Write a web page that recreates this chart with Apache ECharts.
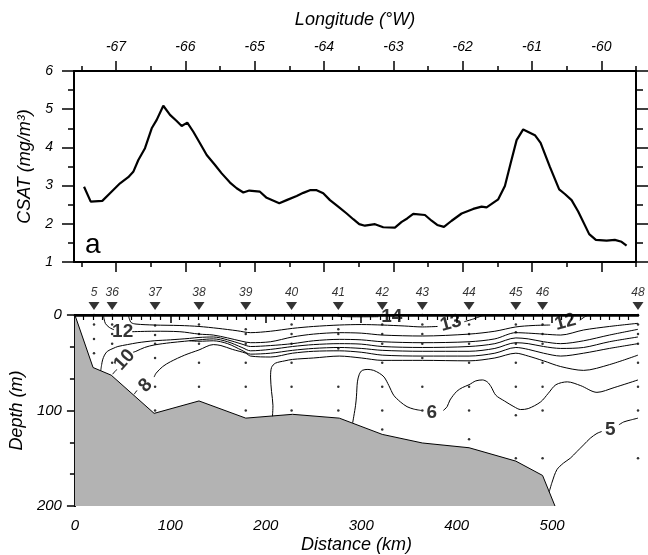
<!DOCTYPE html>
<html><head><meta charset="utf-8">
<script src="https://cdn.jsdelivr.net/npm/echarts@6/dist/echarts.min.js"></script>
<style>html,body{margin:0;padding:0;background:#fff}#c{width:648px;height:555px}</style>
</head><body><div id="c"></div>
<script>
// ---------- DATA ----------
const lonTicks = [-67,-66,-65,-64,-63,-62,-61,-60];
const lonMinorTicks = [-67.5,-66.5,-65.5,-64.5,-63.5,-62.5,-61.5,-60.5,-59.5];
const distTicks = [0,100,200,300,400,500];

// Panel a: CSAT along track (longitude, mg/m3)
const csatLon = [-67.461,-67.365,-67.198,-67.087,-66.942,-66.823,-66.751,-66.678,-66.582,-66.485,-66.413,-66.318,-66.221,-66.125,-66.053,-65.972,-65.885,-65.789,-65.692,-65.572,-65.476,-65.356,-65.260,-65.164,-65.078,-64.924,-64.827,-64.645,-64.539,-64.394,-64.299,-64.203,-64.106,-64.011,-63.914,-63.795,-63.673,-63.578,-63.492,-63.410,-63.265,-63.146,-62.977,-62.880,-62.800,-62.713,-62.544,-62.448,-62.367,-62.270,-62.159,-62.015,-61.848,-61.727,-61.655,-61.582,-61.487,-61.391,-61.309,-61.222,-61.127,-60.958,-60.876,-60.742,-60.608,-60.526,-60.429,-60.334,-60.175,-60.079,-59.924,-59.805,-59.708,-59.636];
const csatVal = [2.97,2.58,2.60,2.80,3.06,3.22,3.36,3.67,3.98,4.50,4.72,5.09,4.85,4.69,4.56,4.65,4.41,4.11,3.80,3.54,3.32,3.08,2.93,2.82,2.87,2.84,2.68,2.54,2.62,2.73,2.81,2.88,2.88,2.80,2.62,2.45,2.27,2.12,1.99,1.95,1.99,1.91,1.90,2.05,2.14,2.26,2.23,2.08,1.97,1.92,2.08,2.27,2.39,2.45,2.43,2.52,2.64,2.99,3.58,4.19,4.47,4.32,4.12,3.49,2.90,2.78,2.62,2.32,1.73,1.58,1.56,1.58,1.53,1.43];

// Panel b: stations
const stationNames = ['5','36','37','38','39','40','41','42','43','44','45','46','48'];
const stationDist  = [20,39,84,130,179,227,276,322,364,413,462,490,590];
const sampleDepths = [
  [0,10,25,40],
  [0,10,20,30,50],
  [0,11,21,30,45,75,100],
  [0,10,20,30,50,75],
  [0,15,20,30,50,75,100],
  [0,10,20,30,50,75,100],
  [0,15,20,35,75,100],
  [0,10,20,30,50,75,100,120],
  [0,10,20,30,45,75,100],
  [0,10,20,30,50,75,100,130],
  [0,10,18,30,50,75,105,150],
  [0,10,20,30,50,75,100,150],
  [0,10,20,30,50,75,100,150]
];

// Bathymetry (distance km, depth m)
const bathyDist  = [0,19,38,83,130,179,228,277,322,364,413,462,490,503];
const bathyDepth = [0,55,63,103,90,108,104,108,125,134,139,153,168,200];

// Contour lines: each = list of segments of [distance, depth]
const c14 = [[[272,0],[280,1.6],[300,1.9],[318,1.8]]];
const c13 = [
  [[56,0],[57,4],[59,8],[64,9.5],[83,10.5],[110,11],[130,12],[150,14],[170,16.5],[184,18.5],[205,17],[228,14],[250,12],[277,10.5],[300,10],[322,10.5],[345,11.5],[364,12.5],[380,12]],
  [[408,7],[418,4],[426,1],[430,0]]
];
const c12 = [
  [[30,0],[30.5,4],[32,9],[36,13],[41,15.5]],
  [[60,17.5],[83,17],[110,17.5],[130,20],[145,21],[160,24],[175,27.5],[184,29],[205,28],[228,23],[250,20],[277,18.5],[300,19],[322,21],[364,22],[413,20],[440,17],[462,12.5],[480,11],[498,10.5]],
  [[529,5.5],[534,2],[538,0]]
];
const c11 = [
  [[27,58.5],[28,52],[29,47],[31,42],[34,38],[40,35],[45,33],[55,31],[66,29],[83,27],[100,26],[120,24.5],[130,23.5],[145,23],[160,26],[175,30.5],[184,33],[205,32],[228,30],[250,27],[277,25.5],[300,26],[322,28],[364,29],[413,28],[440,25],[462,18.5],[475,19],[491,20],[509,21],[533,15.7],[560,12],[590,8.7]]
];
const c10 = [
  [[39.5,62],[42,59],[44,57]],
  [[61,39],[64,38],[73,34],[83,31.4],[100,29],[115,27.5],[130,26],[145,25],[160,28],[175,34],[184,37.5],[205,36],[228,33],[250,31],[277,30],[300,30.5],[322,33],[364,34],[413,33],[440,30],[462,24],[475,25],[491,28],[509,30],[533,27],[560,21],[590,15]]
];
const c9 = [
  [[120,27],[130,27.5],[145,27],[160,30],[175,37],[184,41],[205,40],[228,37],[250,35],[277,34],[300,35],[322,37],[364,38],[413,38],[440,35],[462,29],[475,30],[491,33],[509,35],[533,34],[560,28],[590,23]]
];
const c8 = [
  [[62,83],[65,79]],
  [[83,65],[85,61],[92,54],[100,49],[115,42],[130,36.6],[145,31],[153,32],[165,36],[179,40],[184,43],[205,44],[228,40],[250,38],[277,37.5],[300,39],[322,42],[364,43],[413,43],[440,40],[462,34],[475,36],[491,40],[509,43],[533,40],[560,35],[590,30]]
];
const c7 = [
  [[207,106],[207.5,95],[206,80],[205,65],[206,55],[210,50.5],[220,48],[228,46.5],[250,45],[277,43],[300,45],[322,47.5],[364,47.5],[413,48],[440,45],[462,40],[475,43],[491,48],[509,54],[533,58],[560,52],[590,42]]
];
const c6 = [
  [[291,113],[294,95],[295,85],[296,70],[298,62],[301,58],[307,57],[313,58],[319,61],[324,65],[329,74],[334,84],[341,91],[348,96],[355,98.5],[363,100]],
  [[386,100],[390,96],[393,89],[400,80],[406,76],[413,73],[420,69],[427,68],[432,70],[436,75],[441,84],[450,90],[460,96],[467,99],[475,98],[488,91],[496,82],[504,73],[516,70],[530,74],[547,81],[565,76],[590,68]]
];
const c5 = [
  [[497,185],[500,175],[505,162],[512,155],[519,150],[526,143],[533,136],[540,129],[547,124],[552,122]],
  [[570,115],[575,112],[582,110],[590,108]]
];
const contourLabelText  = ['14','13','12','12','10','8','6','5'];
const contourLabelDist  = [332,394,514,50,52,74,374,561];
const contourLabelDepth = [1.5,8.7,7.5,17.5,47,74,102,120];
const contourLabelAngle = [0,15,15,0,48,45,0,0];

// ---------- CHART ----------
const FONT = '"Liberation Sans", Arial, Helvetica, sans-serif';
const LON_MIN = -67.606, LON_MAX = -59.5;
const DIST_MAX = 590;
const distMinor = [];
for (let d = 10; d < DIST_MAX; d += 10) if (d % 100 !== 0) distMinor.push(d);

const blackLine = w => ({show:true, lineStyle:{color:'#000', width:w}});
const italicLabel = (extra) => Object.assign({color:'#000', fontFamily:FONT, fontStyle:'italic', fontSize:14}, extra);
const nameStyle = {color:'#000', fontFamily:FONT, fontStyle:'italic', fontSize:18};

const contourSeries = [];
[c14,c13,c12,c11,c10,c9,c8,c7,c6,c5].forEach(segs => segs.forEach(seg => {
  contourSeries.push({type:'line', xAxisIndex:4, yAxisIndex:3, data:seg, symbol:'none', smooth:0.3,
    lineStyle:{color:'#000', width:1}, z:3, silent:true, clip:true});
}));

const dots = [];
stationDist.forEach((d,i) => sampleDepths[i].forEach(z => dots.push([d,z])));

const option = {
  animation:false,
  backgroundColor:'#fff',
  textStyle:{fontFamily:FONT},
  grid:[
    {left:74, top:71, width:562, height:191},
    {left:74, top:315, width:564, height:191},
    {left:74, top:71, width:562, height:191},
    {left:74, top:315, width:564, height:191}
  ],
  xAxis:[
    {gridIndex:0, type:'value', position:'top', min:LON_MIN, max:LON_MAX,
      name:'Longitude (°W)', nameLocation:'middle', nameGap:42, nameTextStyle:nameStyle,
      axisLine:blackLine(2), axisTick:{show:true, length:10, customValues:lonTicks, lineStyle:{color:'#000', width:1.5}},
      axisLabel:italicLabel({customValues:lonTicks, margin:17}), splitLine:{show:false}},
    {gridIndex:0, type:'value', position:'bottom', min:LON_MIN, max:LON_MAX,
      axisLine:blackLine(2), axisTick:{show:true, length:10, customValues:lonTicks, lineStyle:{color:'#000', width:1.5}},
      axisLabel:{show:false}, splitLine:{show:false}},
    {gridIndex:2, type:'value', position:'top', min:LON_MIN, max:LON_MAX,
      axisLine:{show:false}, axisTick:{show:true, length:5, customValues:lonMinorTicks, lineStyle:{color:'#000', width:1.5}},
      axisLabel:{show:false}, splitLine:{show:false}},
    {gridIndex:2, type:'value', position:'bottom', min:LON_MIN, max:LON_MAX,
      axisLine:{show:false}, axisTick:{show:true, length:5, customValues:lonMinorTicks, lineStyle:{color:'#000', width:1.5}},
      axisLabel:{show:false}, splitLine:{show:false}},
    {gridIndex:1, type:'value', position:'bottom', min:0, max:DIST_MAX,
      name:'Distance (km)', nameLocation:'middle', nameGap:30, nameTextStyle:nameStyle,
      axisLine:blackLine(2), axisTick:{show:true, length:8, customValues:distTicks, lineStyle:{color:'#000', width:1.5}},
      axisLabel:italicLabel({customValues:distTicks, margin:12, fontSize:15}), splitLine:{show:false}},
    {gridIndex:1, type:'value', position:'top', min:0, max:DIST_MAX,
      axisLine:blackLine(2.5), axisTick:{show:false}, axisLabel:{show:false}, splitLine:{show:false}},
    {gridIndex:3, type:'value', position:'bottom', min:0, max:DIST_MAX,
      axisLine:{show:false}, axisTick:{show:true, length:5, customValues:distMinor, lineStyle:{color:'#000', width:1.2}},
      axisLabel:{show:false}, splitLine:{show:false}}
  ],
  yAxis:[
    {gridIndex:0, type:'value', position:'left', min:1, max:6, interval:1,
      name:'CSAT (mg/m³)', nameLocation:'middle', nameGap:36, nameRotate:90, nameTextStyle:nameStyle,
      axisLine:blackLine(2), axisTick:{show:true, length:12, lineStyle:{color:'#000', width:1.5}},
      minorTick:{show:true, splitNumber:2, length:6, lineStyle:{color:'#000', width:1.5}},
      axisLabel:italicLabel({margin:21}), splitLine:{show:false}, minorSplitLine:{show:false}},
    {gridIndex:0, type:'value', position:'right', min:1, max:6, interval:1,
      axisLine:blackLine(2), axisTick:{show:true, length:12, lineStyle:{color:'#000', width:1.5}},
      minorTick:{show:true, splitNumber:2, length:7, lineStyle:{color:'#000', width:1.5}},
      axisLabel:{show:false}, splitLine:{show:false}},
    {gridIndex:2, type:'value', show:false, min:1, max:6},
    {gridIndex:1, type:'value', position:'left', min:0, max:200, interval:100, inverse:true,
      name:'Depth (m)', nameLocation:'middle', nameGap:36, nameRotate:90, nameTextStyle:nameStyle,
      axisLine:blackLine(2), axisTick:{show:true, length:8, lineStyle:{color:'#000', width:1.5}},
      minorTick:{show:true, splitNumber:3, length:5, lineStyle:{color:'#000', width:1.5}},
      axisLabel:italicLabel({margin:13, fontSize:15}), splitLine:{show:false}, minorSplitLine:{show:false}},
    {gridIndex:1, type:'value', position:'right', min:0, max:200, inverse:true,
      axisLine:blackLine(2), axisTick:{show:false}, axisLabel:{show:false}, splitLine:{show:false}},
    {gridIndex:3, type:'value', show:false, min:0, max:200, inverse:true}
  ],
  graphic:[
    {type:'text', left:85, top:231, style:{text:'a', font:'28px ' + FONT, fill:'#000'}},
    {type:'text', left:85, top:471, style:{text:'b', font:'28px ' + FONT, fill:'#000'}}
  ],
  series:[
    {type:'line', xAxisIndex:0, yAxisIndex:0, data:csatLon.map((x,i)=>[x,csatVal[i]]),
      symbol:'none', lineStyle:{color:'#000', width:2.2}, z:3},
    {type:'line', xAxisIndex:4, yAxisIndex:3, data:bathyDist.map((x,i)=>[x,bathyDepth[i]]),
      symbol:'none', lineStyle:{color:'#000', width:1}, areaStyle:{color:'#b3b3b3', opacity:1, origin:'end'}, z:2},
    ...contourSeries,
    {type:'scatter', xAxisIndex:4, yAxisIndex:3, data:dots, symbolSize:2.5, itemStyle:{color:'#000'}, z:4, clip:false},
    {type:'scatter', xAxisIndex:4, yAxisIndex:3, clip:false, z:5,
      data:contourLabelText.map((t,i)=>({name:t, value:[contourLabelDist[i],contourLabelDepth[i]],
        label:{show:true, rotate:contourLabelAngle[i], fontSize:19, fontWeight:'bold', color:'#000', fontFamily:FONT}})),
      symbolSize:1, itemStyle:{color:'rgba(0,0,0,0)'},
      label:{show:true, position:'inside', formatter:'{b}', fontSize:19, fontWeight:'bold', color:'#000', fontFamily:FONT}},
    {type:'scatter', xAxisIndex:4, yAxisIndex:3, clip:false, z:5,
      data:stationNames.map((n,i)=>({name:n, value:[stationDist[i], -9.4]})),
      symbol:'triangle', symbolRotate:180, symbolSize:[11,8], itemStyle:{color:'#000'},
      label:{show:true, position:'top', distance:3, formatter:'{b}', color:'#000', fontFamily:FONT, fontStyle:'italic', fontSize:12}}
  ]
};
const chart = echarts.init(document.getElementById('c'), null, {renderer:'canvas'});
chart.setOption(option);
</script></body></html>
